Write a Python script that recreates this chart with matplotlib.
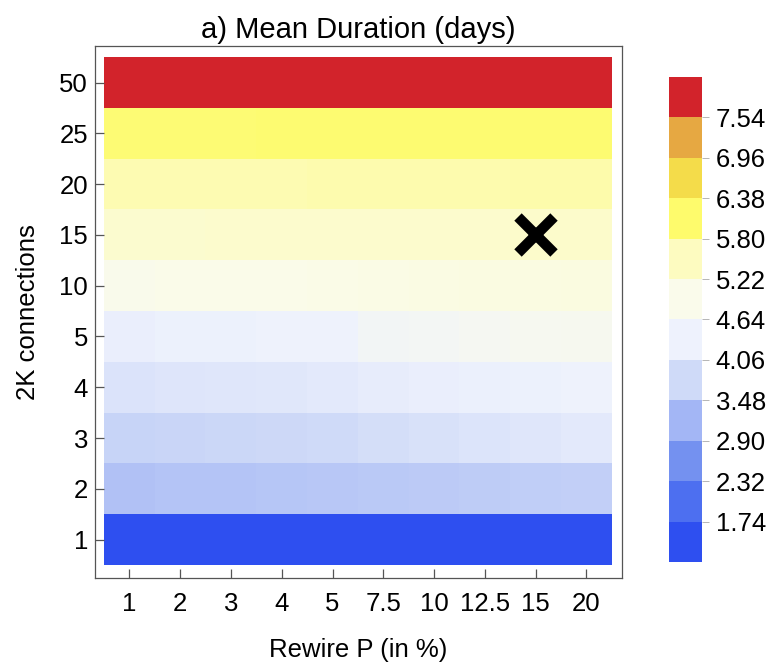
import numpy as np
import matplotlib
matplotlib.use("Agg")
import matplotlib.pyplot as plt
from matplotlib.colors import LinearSegmentedColormap, ListedColormap, BoundaryNorm

plt.rcParams['font.family'] = ['Liberation Sans', 'DejaVu Sans']

rewire = ["1", "2", "3", "4", "5", "7.5", "10", "12.5", "15", "20"]
conns = ["1", "2", "3", "4", "5", "10", "15", "20", "25", "50"]

# mean duration (days), one row per connection count, columns follow rewire
dur_1 = [1.30, 1.30, 1.30, 1.30, 1.30, 1.30, 1.30, 1.30, 1.30, 1.30]
dur_2 = [3.39, 3.42, 3.44, 3.46, 3.48, 3.50, 3.52, 3.55, 3.57, 3.60]
dur_3 = [3.68, 3.71, 3.73, 3.75, 3.77, 3.88, 3.95, 4.02, 4.09, 4.15]
dur_4 = [4.01, 4.05, 4.08, 4.11, 4.15, 4.24, 4.28, 4.31, 4.33, 4.35]
dur_5 = [4.29, 4.32, 4.34, 4.36, 4.38, 4.58, 4.64, 4.70, 4.74, 4.77]
dur_10 = [4.93, 4.94, 4.95, 4.96, 4.98, 5.00, 5.02, 5.04, 5.06, 5.08]
dur_15 = [5.31, 5.31, 5.32, 5.32, 5.32, 5.33, 5.33, 5.33, 5.34, 5.34]
dur_20 = [5.60, 5.60, 5.61, 5.61, 5.62, 5.62, 5.63, 5.63, 5.64, 5.64]
dur_25 = [6.03, 6.03, 6.03, 6.04, 6.04, 6.04, 6.04, 6.05, 6.05, 6.05]
dur_50 = [7.95, 7.95, 7.95, 7.95, 7.95, 7.95, 7.95, 7.95, 7.95, 7.95]

levels = [1.16, 1.74, 2.32, 2.90, 3.48, 4.06, 4.64, 5.22, 5.80, 6.38, 6.96, 7.54, 8.12]
level_colors = ["#2e4ff0", "#4d6ff0", "#7491f0", "#a3b6f5", "#cfdaf8", "#eef2fd",
                "#fafbeb", "#fdfbc0", "#fefb6c", "#f4dc4a", "#e6a842", "#d2232b"]

marker_col, marker_row = "15", "15"

grid = np.array([dur_1, dur_2, dur_3, dur_4, dur_5, dur_10, dur_15, dur_20, dur_25, dur_50])

centers = [(levels[i] + levels[i + 1]) / 2 for i in range(len(level_colors))]
lo, hi = centers[0], centers[-1]
smooth = LinearSegmentedColormap.from_list(
    "dur", [((c - lo) / (hi - lo), col) for c, col in zip(centers, level_colors)])

fig = plt.figure(figsize=(7.74, 6.65), dpi=100)
ax = fig.add_axes([0.1227, 0.1308, 0.6809, 0.8])
ax.imshow(grid, cmap=smooth, vmin=lo, vmax=hi, origin="lower", aspect="auto",
          interpolation="nearest")
ax.set_xlim(-0.68, 9.7)
ax.set_ylim(-0.756, 9.72)

ax.plot(rewire.index(marker_col), conns.index(marker_row), marker="x",
        markersize=26, markeredgewidth=7.5, color="black")

ax.set_xticks(range(len(rewire)))
ax.set_xticklabels(rewire)
ax.set_yticks(range(len(conns)))
ax.set_yticklabels(conns)
ax.tick_params(direction="in", length=6.5, width=0.9, color="#555555",
               labelsize=18.5)
ax.tick_params(axis="x", pad=10)
ax.tick_params(axis="y", pad=5)
for s in ax.spines.values():
    s.set_color("#555555")
    s.set_linewidth(0.9)

ax.set_title("a) Mean Duration (days)", fontsize=21, pad=6)
ax.set_xlabel("Rewire P (in %)", fontsize=18.5, labelpad=16)
ax.set_ylabel("2K connections", fontsize=18.5, labelpad=14)

cax = fig.add_axes([0.8643, 0.1549, 0.0426, 0.7293])
norm = BoundaryNorm(levels, len(level_colors))
sm = plt.cm.ScalarMappable(norm=norm, cmap=ListedColormap(level_colors))
cb = fig.colorbar(sm, cax=cax, boundaries=levels, ticks=levels[1:-1])
cb.outline.set_visible(False)
cb.ax.minorticks_off()
cb.ax.set_yticklabels([f"{v:.2f}" for v in levels[1:-1]])
cb.ax.tick_params(length=5, width=0.6, color="#aaaaaa", labelsize=18.5, pad=5)

fig.savefig("out.png", dpi=100)
